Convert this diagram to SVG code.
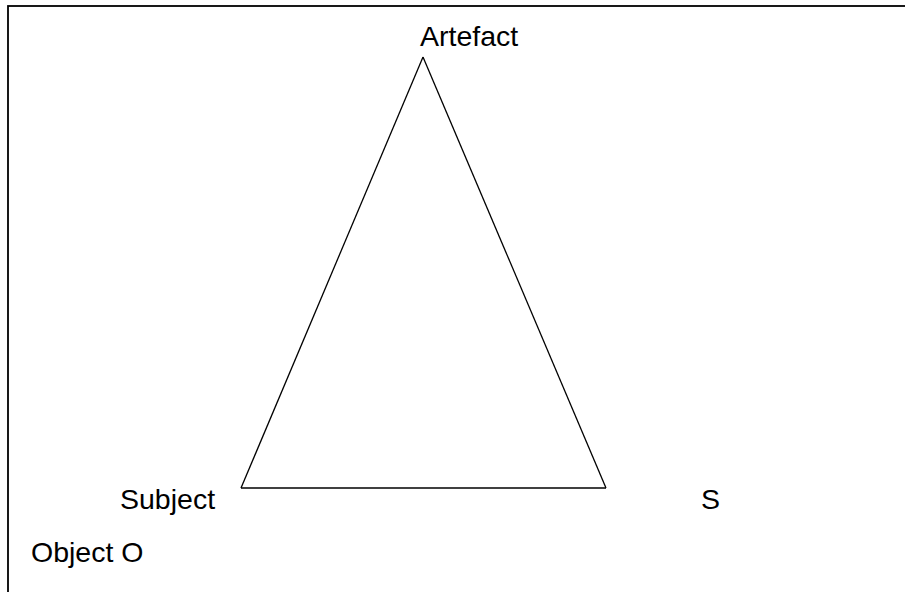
<svg xmlns="http://www.w3.org/2000/svg" width="905" height="592" viewBox="0 0 905 592">
<style>
.lbl{font-family:"Liberation Sans",Arial,sans-serif;font-size:28.5px;fill:#000}
.edge{stroke:#000;stroke-width:1.3;fill:none}
</style>
<rect width="905" height="592" fill="#fff"/>
<rect x="8" y="6" width="920" height="620" fill="none" stroke="#000" stroke-width="1.8"/>
<g id="connectors">
<line class="edge" x1="423" y1="57" x2="241" y2="488"/>
<line class="edge" x1="423" y1="57" x2="606" y2="488"/>
<line class="edge" x1="241" y1="488" x2="606" y2="488"/>
</g>
<g id="artefact"><text class="lbl" x="420" y="46">Artefact</text></g>
<g id="subject"><text class="lbl" x="120" y="509">Subject</text></g>
<g id="s"><text class="lbl" x="701" y="509">S</text></g>
<g id="object"><text class="lbl" x="31" y="562">Object O</text></g>
</svg>
